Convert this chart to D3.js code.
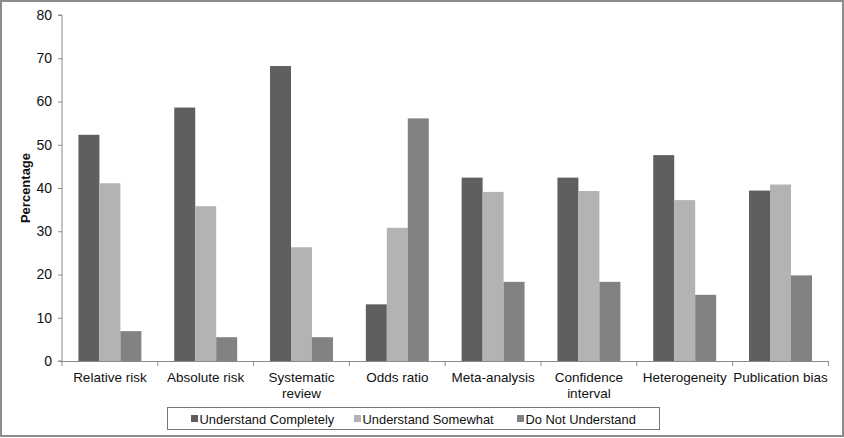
<!DOCTYPE html>
<html>
<head>
<meta charset="utf-8">
<script src="https://cdn.jsdelivr.net/npm/d3@7"></script>
<style>
  html, body { margin: 0; padding: 0; background: #fff; }
  svg { display: block; font-family: "Liberation Sans", Arial, sans-serif; }
</style>
</head>
<body>
<svg id="chart" width="844" height="438"></svg>
<script>
const categories = [["Relative risk"], ["Absolute risk"], ["Systematic", "review"], ["Odds ratio"], ["Meta-analysis"], ["Confidence", "interval"], ["Heterogeneity"], ["Publication bias"]];
const seriesNames = ["Understand Completely", "Understand Somewhat", "Do Not Understand"];
const understandCompletely = [52.3, 58.6, 68.2, 13.1, 42.4, 42.4, 47.6, 39.4];
const understandSomewhat = [41.1, 35.8, 26.3, 30.8, 39.1, 39.3, 37.2, 40.8];
const doNotUnderstand = [6.9, 5.5, 5.5, 56.1, 18.3, 18.3, 15.3, 19.8];
const yTicks = [0, 10, 20, 30, 40, 50, 60, 70, 80];
const colors = ["#5f5f5f", "#b3b3b3", "#828282"];

(function () {
const series = [understandCompletely, understandSomewhat, doNotUnderstand];
const svg = d3.select("#chart");
const W = 844, H = 438;
const pl = 62, pr = 828.4, pt = 15, pb = 361;
const axisColor = "#8a8a8a";

// outer border
svg.append("rect").attr("x", 1).attr("y", 1).attr("width", W - 2).attr("height", H - 3)
  .attr("fill", "#fff").attr("stroke", "#8c8c8c").attr("stroke-width", 2);

const keys = categories.map((c, i) => i);
const x = d3.scaleBand().domain(keys).range([pl, pr]).paddingInner(0.343).paddingOuter(0.1715);
const xs = d3.scaleBand().domain([0, 1, 2]).range([0, x.bandwidth()]);
const y = d3.scaleLinear().domain([0, 80]).range([pb, pt]);

// bars
const g = svg.append("g");
keys.forEach(i => {
  series.forEach((s, j) => {
    g.append("rect")
      .attr("x", x(i) + xs(j))
      .attr("y", y(s[i]))
      .attr("width", xs.bandwidth())
      .attr("height", y(0) - y(s[i]))
      .attr("fill", colors[j]);
  });
});

// y axis
const yAxis = svg.append("g").attr("transform", `translate(${pl},0)`)
  .call(d3.axisLeft(y).tickValues(yTicks).tickSize(4).tickPadding(6).tickFormat(d3.format("d")));
yAxis.select(".domain").attr("stroke", axisColor).attr("d", `M-4,${pt}H0V${pb}H-4`);
yAxis.selectAll(".tick line").attr("stroke", axisColor);
yAxis.selectAll(".tick text").attr("fill", "#111").style("font-size", "14px");

// x axis
const boundaries = d3.range(categories.length + 1).map(k => pl + k * (pr - pl) / categories.length);
svg.append("line").attr("x1", pl).attr("x2", pr).attr("y1", pb + 0.5).attr("y2", pb + 0.5)
  .attr("stroke", axisColor);
svg.selectAll(".xtick").data(boundaries).join("line")
  .attr("x1", d => d).attr("x2", d => d).attr("y1", pb).attr("y2", pb + 5)
  .attr("stroke", axisColor);

const xl = svg.append("g");
categories.forEach((lines, i) => {
  const cx = x(i) + x.bandwidth() / 2;
  const t = xl.append("text")
    .attr("x", cx)
    .attr("y", 382)
    .attr("text-anchor", "middle")
    .attr("fill", "#111")
    .style("font-size", "13.5px");
  lines.forEach((ln, k) => {
    t.append("tspan").attr("x", cx).attr("dy", k === 0 ? 0 : 16).text(ln);
  });
});

// y label
svg.append("text")
  .attr("transform", `translate(30,${(pt + pb) / 2}) rotate(-90)`)
  .attr("text-anchor", "middle")
  .attr("font-weight", "bold")
  .attr("fill", "#111")
  .style("font-size", "13px")
  .text("Percentage");

// legend
svg.append("rect").attr("x", 167.5).attr("y", 407.5).attr("width", 492).attr("height", 22)
  .attr("fill", "#fff").attr("stroke", "#777").attr("stroke-width", 1);
const legendX = [191, 354, 517];
seriesNames.forEach((name, j) => {
  svg.append("rect").attr("x", legendX[j]).attr("y", 415).attr("width", 7).attr("height", 7).attr("fill", colors[j]);
  svg.append("text").attr("x", legendX[j] + 8.5).attr("y", 423.5)
    .attr("fill", "#111").style("font-size", "12.9px").text(name);
});
})();
</script>
</body>
</html>
